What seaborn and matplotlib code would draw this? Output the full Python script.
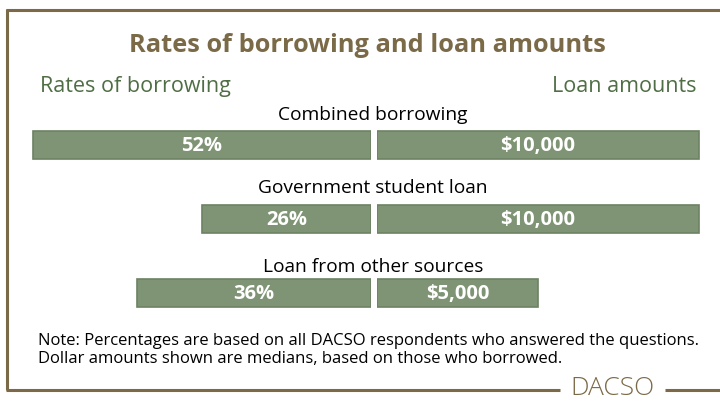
import matplotlib
matplotlib.use("Agg")
import matplotlib.pyplot as plt
from matplotlib.lines import Line2D
import seaborn as sns
import pandas as pd

# Data
categories = ["Combined borrowing", "Government student loan", "Loan from other sources"]
borrow_rates = [52, 26, 36]          # percent of respondents who borrowed
loan_amounts = [10000, 10000, 5000]  # median amount borrowed, dollars

title = "Rates of borrowing and loan amounts"
left_heading = "Rates of borrowing"
right_heading = "Loan amounts"
note_lines = [
    "Note: Percentages are based on all DACSO respondents who answered the questions.",
    "Dollar amounts shown are medians, based on those who borrowed.",
]
brand = "DACSO"

BAR = "#7f9474"
BAR_EDGE = "#6c8262"
BROWN = "#7b6a47"
GREEN = "#4f6e45"
FONT = "Open Sans"

sns.set_theme(style="white")
plt.rcParams["font.family"] = [FONT, "DejaVu Sans"]

W, H = 720, 402
fig = plt.figure(figsize=(W / 100, H / 100), dpi=100)
fig.patch.set_facecolor("white")


def fx(px):
    return px / W


def fy(py):
    return 1 - py / H


df = pd.DataFrame({"category": categories, "rate": borrow_rates, "amount": loan_amounts})

# vertical band holding the three bar rows
row_top, row_bottom = 109, 331.5
ax_b = fy(row_bottom)
ax_h = (row_bottom - row_top) / H

# left panel: borrowing rates grow leftwards from the centre
axL = fig.add_axes([fx(20), ax_b, fx(351), ax_h])
sns.barplot(data=df, x="rate", y="category", orient="h", ax=axL, color=BAR,
            width=0.378, edgecolor=BAR_EDGE, linewidth=1.2, saturation=1)
axL.set_xlim(54, 0)
axL.bar_label(axL.containers[0], labels=[f"{v}%" for v in df["rate"]],
              label_type="center", color="white", fontweight="bold", fontsize=14.5)

# right panel: median loan amounts grow rightwards
axR = fig.add_axes([fx(377), ax_b, fx(333), ax_h])
sns.barplot(data=df, x="amount", y="category", orient="h", ax=axR, color=BAR,
            width=0.378, edgecolor=BAR_EDGE, linewidth=1.2, saturation=1)
axR.set_xlim(0, 10342)
axR.bar_label(axR.containers[0], labels=[f"${v:,}" for v in df["amount"]],
              label_type="center", color="white", fontweight="bold", fontsize=14.5)

for ax in (axL, axR):
    ax.set_ylim(2.5, -0.5)
    ax.axis("off")

# row captions above each pair of bars
for py, cat in zip([115, 188.5, 267.5], categories):
    fig.text(fx(373), fy(py), cat, ha="center", va="center", fontsize=13.8, color="black")

# headings
fig.text(fx(367), fy(45), title, ha="center", va="center", fontsize=18.3,
         fontweight="bold", color=BROWN)
fig.text(fx(40), fy(87), left_heading, ha="left", va="center", fontsize=15.5, color=GREEN)
fig.text(fx(697), fy(87), right_heading, ha="right", va="center", fontsize=15.5, color=GREEN)

# footnote
for py, line in zip([341, 359], note_lines):
    fig.text(fx(38), fy(py), line, ha="left", va="center", fontsize=12, color="black")

# brown frame open on the right, with the brand set into the bottom rule
frame = dict(color=BROWN, linewidth=2.2, solid_capstyle="butt")
fig.add_artist(Line2D([fx(6), fx(720)], [fy(11), fy(11)], **frame))
fig.add_artist(Line2D([fx(7), fx(7)], [fy(10), fy(391)], **frame))
fig.add_artist(Line2D([fx(6), fx(560)], [fy(391), fy(391)], **frame))
fig.add_artist(Line2D([fx(665), fx(720)], [fy(391), fy(391)], **frame))
fig.text(fx(612), fy(395), brand, ha="center", va="baseline", fontsize=19,
         fontweight="light", color=BROWN)

fig.savefig("out.png", dpi=100, facecolor="white")
